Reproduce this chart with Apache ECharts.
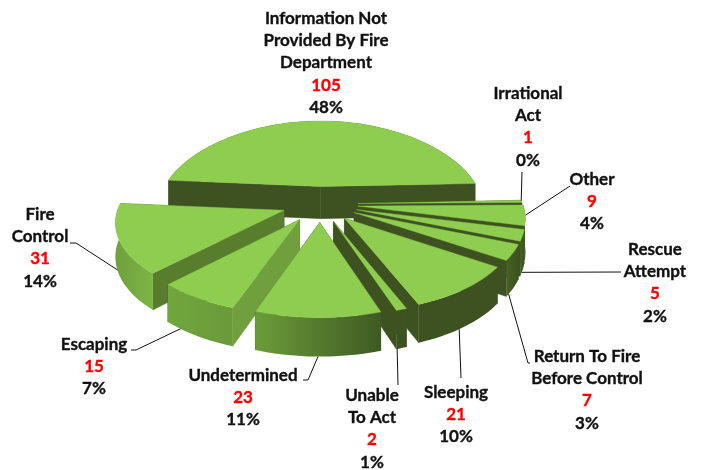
<!DOCTYPE html>
<html><head><meta charset="utf-8">
<style>html,body{margin:0;padding:0;background:#fff}#c{width:704px;height:470px}</style>
<script src="https://cdn.jsdelivr.net/npm/echarts@6/dist/echarts.min.js"></script></head>
<body><div id="c"></div>
<script>
// ---- data ----
var categories = ['Information Not\nProvided By Fire\nDepartment','Irrational\nAct','Other','Rescue\nAttempt','Return To Fire\nBefore Control','Sleeping','Unable\nTo Act','Undetermined','Escaping','Fire\nControl'];
var counts = [105,1,9,5,7,21,2,23,15,31];
var percents = ['48%','0%','4%','2%','3%','10%','1%','11%','7%','14%'];

// ---- layout (pseudo-3D camera and label placement) ----
var firstAngle = -85, cx = 320, cy = 204, rx = 165, ry = 78, persp = 0.126, perspFar = 0.25, depth = 33, explode = 0.23;
var labelX = [326,528,592,655,587,456,372,243,94,40];
var labelTop = [7,82,168,238,345,381,384,364,333,203];
var anchorDepth = [0,0,0,1,1,1,1,1,0.6,0.9];
var anchorAngle = [0,0,0,1.5,4,2.5,1.4,0,0,0];
var leaders = [null,[[522,172]],[[570,186]],[[621,272]],[[530,363],[528,363]],[[461,378]],[[398,385]],[[303,380],[308,380]],[[131,350],[136,350]],[[70,243],[76,243]]];
var drawRank = [0,1,2,3,4,5,6,8,7,6];
var dark = '#3d5220';
var topColor = '#8ecd4f';
var startWall = [dark,dark,dark,dark,dark,dark,dark,dark,'#709f3d','#587d2d'];
var endWall = [dark,dark,dark,dark,dark,dark,dark,dark,dark,dark];
var rimStops = [
 [dark,dark],[dark,dark],['#466125',dark],['#466125',dark],['#466125',dark],[dark,dark],[dark,dark],
 ['#6b9c39','#3f5a22'],['#70a63e','#6a9a39'],['#6fa03c','#7db547']
];

var total = counts.reduce(function(a,b){return a+b;},0);
var spans = [], acc = firstAngle;
counts.forEach(function(v){var a0=acc; acc+=v/total*360; spans.push([a0,acc]);});
function rad(d){return d*Math.PI/180;}
function proj(X,Y,z){
  var s = 1/(1+persp*Y);
  var sx = Y>0 ? 1/(1+perspFar*Y) : s;
  return [cx+rx*X*sx, cy-ry*Y*s+z*depth*s];
}
function pt(i,ang,r,z){
  var m=(spans[i][0]+spans[i][1])/2;
  var X=explode*Math.sin(rad(m))+r*Math.sin(rad(ang));
  var Y=explode*Math.cos(rad(m))+r*Math.cos(rad(ang));
  return proj(X,Y,z);
}
function poly(points,fill,z2){
  return {type:'polygon',z2:z2,shape:{points:points},style:{fill:fill,stroke:fill,lineWidth:0.4}};
}
function renderItem(params,api){
  var i=params.dataIndex, a0=spans[i][0], a1=spans[i][1], n=Math.max(4,Math.ceil((a1-a0)/2));
  var topPts=[pt(i,a0,0,0)], rimT=[], rimB=[];
  for(var k=0;k<=n;k++){var a=a0+(a1-a0)*k/n; rimT.push(pt(i,a,1,0)); rimB.push(pt(i,a,1,1));}
  topPts=topPts.concat(rimT);
  var z=drawRank[i]*10;
  var xs=rimT.map(function(p){return p[0];});
  var grad=new echarts.graphic.LinearGradient(Math.min.apply(null,xs),0,Math.max.apply(null,xs),0,
    [{offset:0,color:rimStops[i][0]},{offset:1,color:rimStops[i][1]}],true);
  var apexT=pt(i,a0,0,0), apexB=pt(i,a0,0,1);
  var leftSide=Math.sin(rad((a0+a1)/2))<0;
  var kids=[
   poly([apexT,rimT[0],rimB[0],apexB],startWall[i],z+(leftSide?2:1)),
   poly([apexT,rimT[n],rimB[n],apexB],endWall[i],z+(leftSide?1:2)),
   {type:'polygon',z2:z+3,shape:{points:rimT.concat(rimB.slice().reverse())},style:{fill:grad}},
   poly(topPts,topColor,z+4)
  ];
  if(leaders[i]){
    var m=(a0+a1)/2+anchorAngle[i];
    var line=leaders[i].concat([pt(i,m,1,anchorDepth[i])]);
    kids.push({type:'polyline',z2:z,shape:{points:line},style:{stroke:'#111',lineWidth:1,fill:null}});
  }
  var txt=categories[i].split('\n').map(function(s){return '{n|'+s+'}';}).join('\n')+'\n{v|'+api.value(0)+'}\n{n|'+percents[i]+'}';
  kids.push({type:'text',z2:200,style:{x:labelX[i],y:labelTop[i],text:txt,align:'center',verticalAlign:'top',
    rich:{n:{fontFamily:'Lato',fontWeight:'bold',fontSize:17,lineHeight:22.4,fill:'#111',stroke:'#111',lineWidth:0.35},
          v:{fontFamily:'Lato',fontWeight:'bold',fontSize:17,lineHeight:22.4,fill:'#ff0000',stroke:'#ff0000',lineWidth:0.35}}}});
  return {type:'group',children:kids};
}
var chart=echarts.init(document.getElementById('c'),null,{renderer:'canvas'});
chart.setOption({
  animation:false,
  backgroundColor:'#fff',
  series:[{type:'custom',coordinateSystem:'none',renderItem:renderItem,data:counts.map(function(v){return [v];}),silent:true}]
});
</script></body></html>
